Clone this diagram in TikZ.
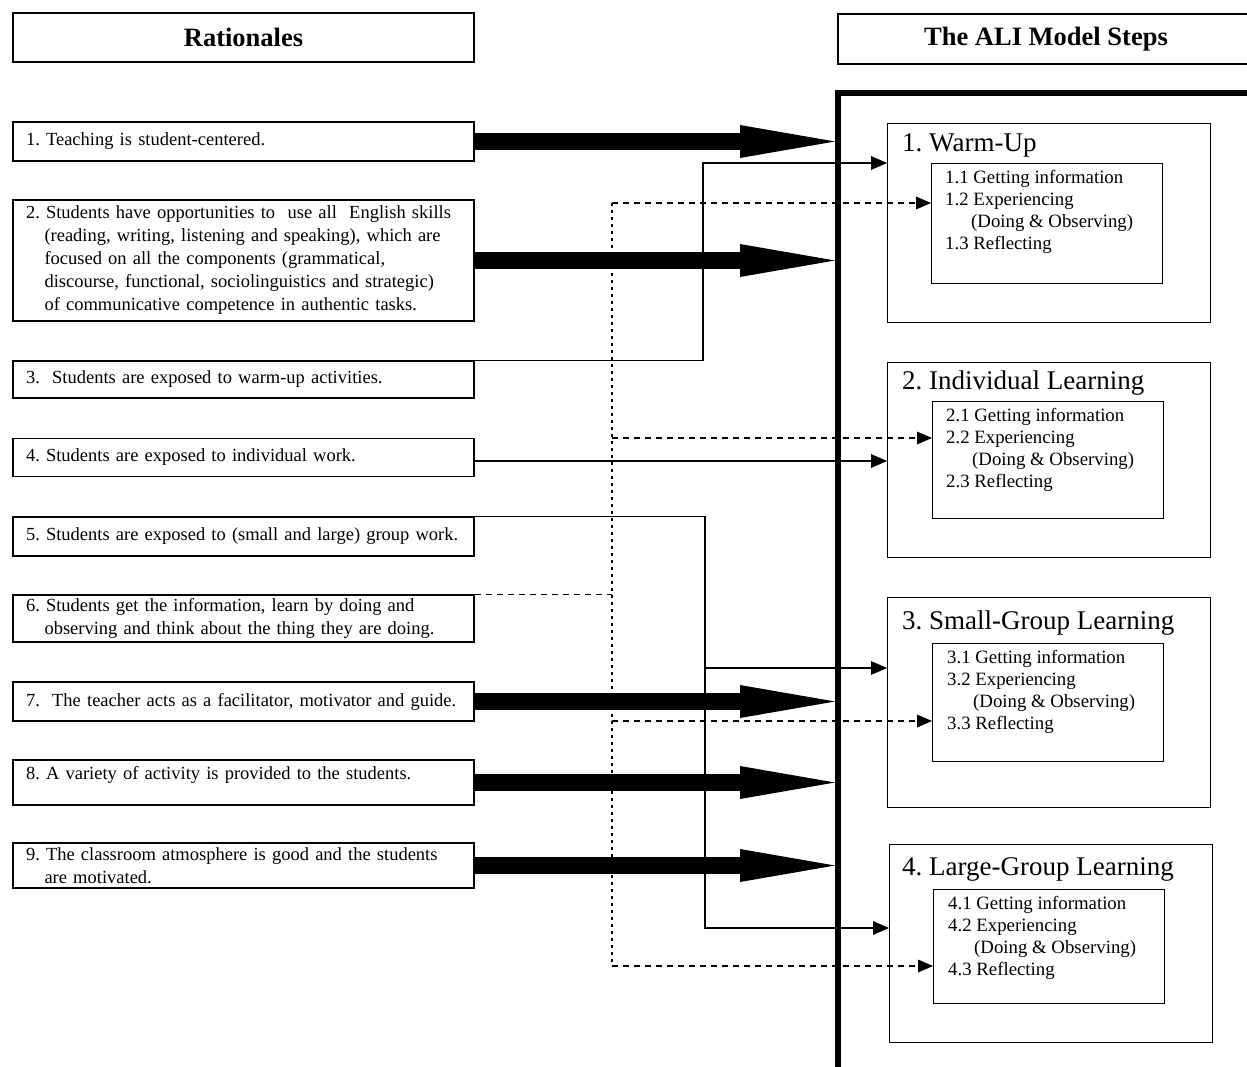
\documentclass[tikz,border=0pt]{standalone}
\usepackage{fontspec}
\setmainfont{Liberation Serif}
\usetikzlibrary{arrows.meta}
\frenchspacing
\begin{document}
\begin{tikzpicture}[x=1pt,y=-1pt,
  box/.style={draw, line width=1.2pt},
  lbox/.style={box, text width=435pt, inner xsep=13pt, inner ysep=0pt, align=left,
    font=\fontsize{18.5}{23}\selectfont},
  head/.style={box, inner sep=0pt, font=\bfseries\fontsize{26.5}{30}\selectfont},
  outer/.style={box, anchor=north west, minimum width=323pt, inner sep=0pt},
  inner/.style={box, anchor=north west, minimum width=231pt, inner sep=0pt},
  title/.style={anchor=base west, inner sep=0pt, font=\fontsize{27}{30}\selectfont},
  sub/.style={anchor=base west, inner sep=0pt, align=left, font=\fontsize{18.8}{22}\selectfont},
  big/.style={line width=17pt, line cap=butt, -{Triangle[length=95pt,width=33pt,line width=0pt]}},
  conn/.style={line width=1.3pt, -{Triangle[length=16pt,width=14pt,line width=0pt]}},
  dconn/.style={line width=1.2pt, dash pattern=on 6pt off 5pt, -{Triangle[length=15pt,width=13pt,line width=0pt]}},
  dline/.style={line width=1.2pt, dash pattern=on 6pt off 5pt},
  dotline/.style={line width=1.6pt, dash pattern=on 3pt off 4pt},
]
\useasboundingbox (0,0) rectangle (1247,1067);

% headings
\node[head, minimum width=461pt, minimum height=49pt] (hl) at (243.5,37.5) {Rationales};
\node[head, minimum width=416pt, minimum height=50pt] (hr) at (1046,39) {The ALI Model Steps};

% rationale boxes
\node[lbox, minimum height=39pt] (b1) at (243.5,141.5) {1. Teaching is student-centered.};
\node[lbox, minimum height=121pt] (b2) at (243.5,260.5) {2. Students have opportunities to\ \ use all\ \ English skills\\
\hspace*{1em}(reading, writing, listening and speaking), which are\\
\hspace*{1em}focused on all the components (grammatical,\\
\hspace*{1em}discourse, functional, sociolinguistics and strategic)\\
\hspace*{1em}of communicative competence in authentic tasks.};
\node[lbox, minimum height=37pt] (b3) at (243.5,379.5) {3.\ \ Students are exposed to warm-up activities.};
\node[lbox, minimum height=38pt] (b4) at (243.5,457.5) {4. Students are exposed to individual work.};
\node[lbox, minimum height=39pt] (b5) at (243.5,536.5) {\mbox{5. Students are exposed to (small and large) group work.}};
\node[lbox, minimum height=47pt] (b6) at (243.5,618.5) {6. Students get the information, learn by doing and\\
\hspace*{1em}observing and think about the thing they are doing.};
\node[lbox, minimum height=39pt] (b7) at (243.5,701.5) {7.\ \ The teacher acts as a facilitator, motivator and guide.};
\node[lbox, text height=19pt, text depth=26pt] (b8) at (243.5,782.5) {8. A variety of activity is provided to the students.};
\node[lbox, minimum height=45pt] (b9) at (243.5,865.5) {9. The classroom atmosphere is good and the students\\
\hspace*{1em}are motivated.};

% frame around the model steps
\draw[line width=5.5pt] (838,1090) -- (838,93) -- (1270,93);
\coordinate (fr) at (835,93);

% model steps (sub-step text is anchored at its last baseline)
\node[outer, minimum height=199pt] (s1) at (887,123) {};
\node[inner, minimum height=120pt] (s1in) at (931,163) {};
\node[title] (s1t) at (902,152) {1. Warm-Up};
\node[sub] (s1x) at (945,249.5) {1.1 Getting information\\1.2 Experiencing\\\hspace*{26pt}(Doing \& Observing)\\1.3 Reflecting};

\node[outer, minimum height=195pt] (s2) at (887,362) {};
\node[inner, minimum height=117pt] (s2in) at (932,401) {};
\node[title] (s2t) at (902,389) {2. Individual Learning};
\node[sub] (s2x) at (946,487.5) {2.1 Getting information\\2.2 Experiencing\\\hspace*{26pt}(Doing \& Observing)\\2.3 Reflecting};

\node[outer, minimum height=210pt] (s3) at (887,597) {};
\node[inner, minimum height=118pt] (s3in) at (932,643) {};
\node[title] (s3t) at (902,629) {3. Small-Group Learning};
\node[sub] (s3x) at (947,729.5) {3.1 Getting information\\3.2 Experiencing\\\hspace*{26pt}(Doing \& Observing)\\3.3 Reflecting};

\node[outer, minimum height=198pt] (s4) at (889,844) {};
\node[inner, minimum height=114pt] (s4in) at (933,889) {};
\node[title] (s4t) at (902,875) {4. Large-Group Learning};
\node[sub] (s4x) at (948,975.5) {4.1 Getting information\\4.2 Experiencing\\\hspace*{26pt}(Doing \& Observing)\\4.3 Reflecting};

% thick arrows into the frame
\foreach \b in {b1,b2,b7,b8,b9}
  \draw[big] (\b.east) -- (\b.east -| fr);

% solid connectors
\coordinate (k3) at (703,163);
\draw[conn] (b3.north east) -| (k3) -- (k3 -| s1.west);
\draw[conn] ([yshift=-3.5pt]b4.east) -- ([yshift=-3.5pt]b4.east -| s2.west);
\coordinate (k5) at (705,928);
\coordinate (k5b) at (705,668);
\draw[conn] (b5.north east) -| (k5) -- (k5 -| s4.west);
\draw[conn] (k5b) -- (k5b -| s3.west);

% dashed connectors
\coordinate (d1) at (612,203);
\coordinate (d2) at (612,438);
\coordinate (d3) at (612,721);
\coordinate (d4) at (612,966);
\draw[dline] (b6.north east) -- (b6.north east -| d1);
\draw[dotline] (d1) -- (d4);
\draw[dconn] (d1) -- (d1 -| s1in.west);
\draw[dconn] (d2) -- (d2 -| s2in.west);
\draw[dconn] (d3) -- (d3 -| s3in.west);
\draw[dconn] (d4) -- (d4 -| s4in.west);
\end{tikzpicture}
\end{document}
